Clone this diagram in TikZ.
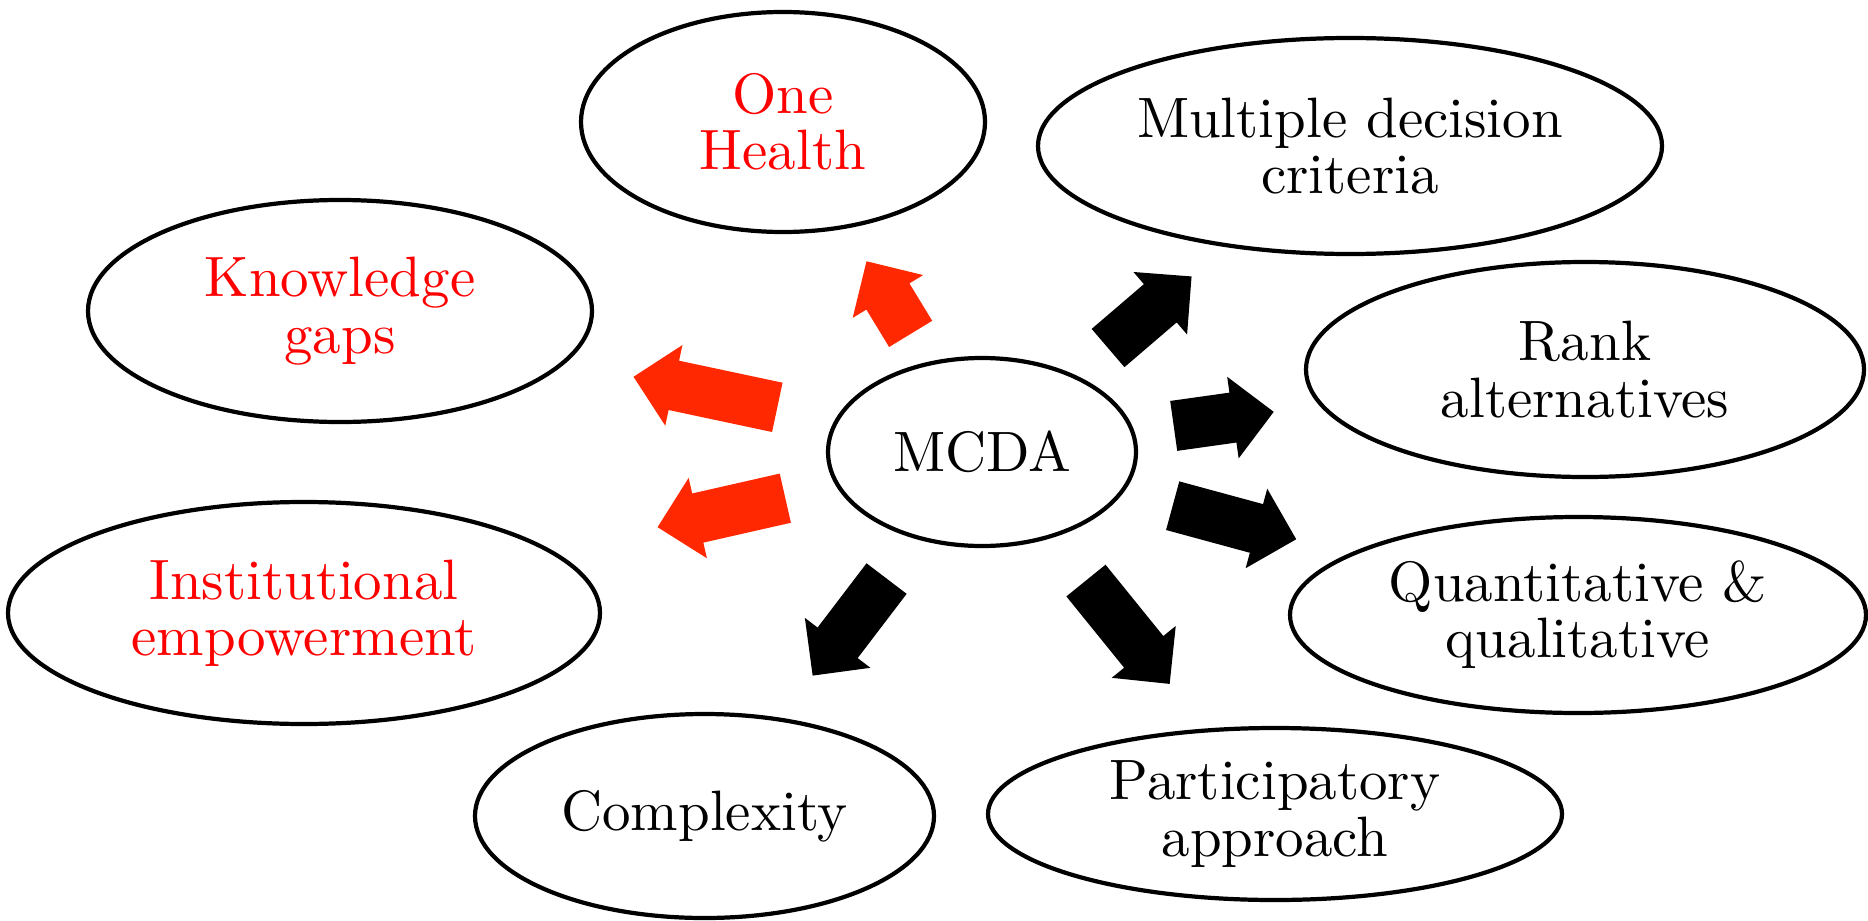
\documentclass[tikz,border=0pt]{standalone}
\usepackage{fontspec}
\setmainfont{lmroman10-regular.otf}
\usetikzlibrary{shapes.geometric,shapes.arrows}
\definecolor{arrred}{RGB}{255,40,0}

\begin{document}
\begin{tikzpicture}[
        bubble/.style={ellipse, draw, line width=1.2pt, inner sep=0pt, align=center,
            font=\fontsize{16.2}{16}\selectfont},
        hot/.style={bubble, text=red},
        blockarr/.style={single arrow, fill, inner xsep=0pt, inner ysep=2.45mm,
            minimum width=8.1mm, single arrow head extend=1.6mm, anchor=tail},
        redarr/.style={blockarr, fill=arrred}]
        \useasboundingbox (0,0) rectangle (18.68,9.2);
        \node[bubble, minimum width=3.08cm, minimum height=1.88cm] (mcda) at (9.82,4.68) {MCDA};
        \node[hot, minimum width=4.04cm, minimum height=2.2cm] (health) at (7.83,7.98) {One\\Health};
        \node[hot, minimum width=5.04cm, minimum height=2.22cm] (gaps) at (3.4,6.09) {Knowledge\\gaps};
        \node[hot, minimum width=5.92cm, minimum height=2.22cm] (inst) at (3.04,3.07) {Institutional\\empowerment};
        \node[bubble, minimum width=4.59cm, minimum height=2.04cm] (cplx) at (7.045,1.04) {Complexity};
        \node[bubble, minimum width=5.74cm, minimum height=1.72cm] (part) at (12.75,1.06) {Participatory\\approach};
        \node[bubble, minimum width=5.76cm, minimum height=1.96cm] (quant) at (15.78,3.05) {Quantitative \&\\qualitative};
        \node[bubble, minimum width=5.58cm, minimum height=2.15cm] (rank) at (15.85,5.505) {Rank\\alternatives};
        \node[bubble, minimum width=6.24cm, minimum height=2.16cm] (crit) at (13.5,7.74) {Multiple decision\\criteria};
        \node[redarr, rotate=121.3, minimum height=8.5mm] (to health) at (9.11,5.855) {};
        \node[redarr, rotate=168, minimum height=14.7mm] (to gaps) at (7.78,5.125) {};
        \node[redarr, rotate=192.8, minimum height=13.1mm] (to inst) at (7.86,4.22) {};
        \node[blockarr, rotate=232.7, minimum height=12.2mm] (to cplx) at (8.87,3.42) {};
        \node[blockarr, rotate=-51, minimum height=13.3mm] (to part) at (10.855,3.4) {};
        \node[blockarr, rotate=-15.2, minimum height=12.8mm] (to quant) at (11.72,4.145) {};
        \node[blockarr, rotate=8, minimum height=10.1mm] (to rank) at (11.73,4.94) {};
        \node[blockarr, rotate=40.6, minimum height=11mm] (to crit) at (11.075,5.715) {};
    \end{tikzpicture}
\end{document}
